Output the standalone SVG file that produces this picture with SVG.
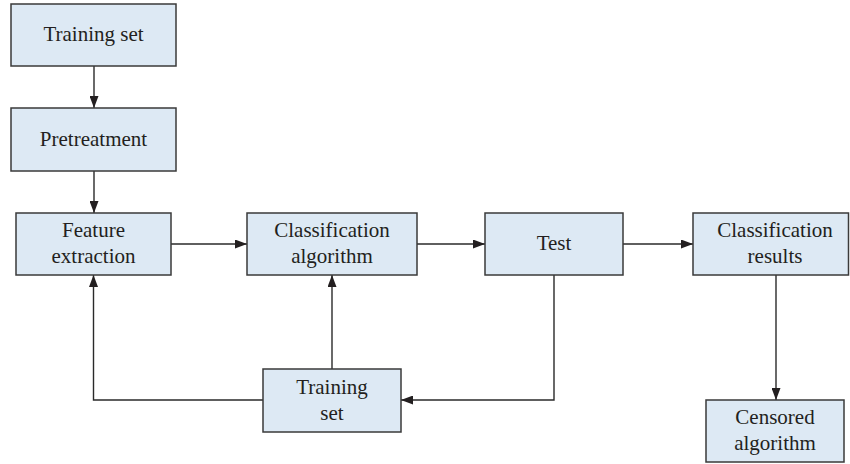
<svg xmlns="http://www.w3.org/2000/svg" width="850" height="464" viewBox="0 0 850 464">
<style>
.box{fill:#dde9f4;stroke:#3a3a3a;stroke-width:1.5}
.t{font-family:"Liberation Serif","Times New Roman",serif;font-size:21px;fill:#231f20;text-anchor:middle}
.c{fill:none;stroke:#2a2a2a;stroke-width:1.4;marker-end:url(#ah)}
</style>
<defs>
<marker id="ah" markerUnits="userSpaceOnUse" markerWidth="12" markerHeight="9" refX="12" refY="4.5" orient="auto">
<path d="M0,0 L12,4.5 L0,9 z" fill="#231f20"/>
</marker>
</defs>
<rect width="850" height="464" fill="#ffffff"/>
<g id="connectors">
<path class="c" d="M94,66 V108"/>
<path class="c" d="M94,171 V213"/>
<path class="c" d="M171,244 H247"/>
<path class="c" d="M417,244 H485"/>
<path class="c" d="M623,244 H693"/>
<path class="c" d="M776,275 V400"/>
<path class="c" d="M554,275 V400 H401"/>
<path class="c" d="M263,400 H93.5 V275"/>
<path class="c" d="M332,369 V275"/>
</g>
<g id="training-set-top">
<rect class="box" x="11" y="4" width="165" height="62"/>
<text class="t" x="93.5" y="41">Training set</text>
</g>
<g id="pretreatment">
<rect class="box" x="11" y="108" width="165" height="63"/>
<text class="t" x="93.5" y="146">Pretreatment</text>
</g>
<g id="feature-extraction">
<rect class="box" x="16" y="213" width="155" height="62"/>
<text class="t" x="93.5" y="237">Feature</text>
<text class="t" x="93.5" y="263">extraction</text>
</g>
<g id="classification-algorithm">
<rect class="box" x="247" y="213" width="170" height="62"/>
<text class="t" x="332" y="237">Classification</text>
<text class="t" x="332" y="263">algorithm</text>
</g>
<g id="test">
<rect class="box" x="485" y="213" width="138" height="62"/>
<text class="t" x="554" y="250">Test</text>
</g>
<g id="classification-results">
<rect class="box" x="693" y="213" width="155.5" height="62"/>
<text class="t" x="775" y="237">Classification</text>
<text class="t" x="775" y="263">results</text>
</g>
<g id="training-set-bottom">
<rect class="box" x="263" y="369" width="138" height="63"/>
<text class="t" x="332" y="393.5">Training</text>
<text class="t" x="332" y="419.5">set</text>
</g>
<g id="censored-algorithm">
<rect class="box" x="706" y="400" width="138" height="62"/>
<text class="t" x="775" y="424">Censored</text>
<text class="t" x="775" y="450">algorithm</text>
</g>
</svg>
